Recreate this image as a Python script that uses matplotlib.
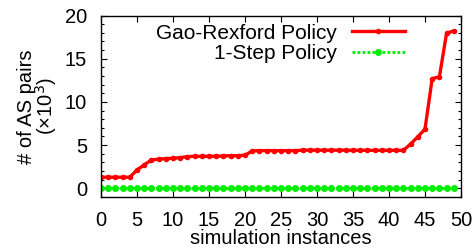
import matplotlib
matplotlib.use("Agg")
import matplotlib.pyplot as plt
from matplotlib.ticker import MultipleLocator

plt.rcParams['font.family'] = ['Liberation Sans', 'DejaVu Sans']

instances = list(range(50))
gao_rexford = [1.29, 1.29, 1.29, 1.29, 1.29, 2.13, 2.71, 3.29, 3.37, 3.44,
               3.48, 3.55, 3.67, 3.71, 3.71, 3.71, 3.71, 3.75, 3.78, 3.78,
               3.83, 4.33, 4.36, 4.36, 4.36, 4.36, 4.36, 4.36, 4.42, 4.42,
               4.42, 4.42, 4.42, 4.42, 4.42, 4.4, 4.4, 4.4, 4.4, 4.4,
               4.4, 4.4, 4.4, 5.13, 5.97, 6.86, 12.7, 12.9, 17.97, 18.2]
one_step = [0.0] * 50

FS = 14.5
fig = plt.figure(figsize=(4.77, 2.49), dpi=100)
ax = fig.add_axes([101/477, 1 - 197/249, 360/477, (197 - 15.5)/249])

ax.plot(instances, gao_rexford, color='#ff0000', lw=2.4, marker='o', ms=3,
        label='Gao-Rexford Policy')
ax.plot(instances, one_step, color='#00ee00', lw=2.0, ls=(0, (1, 0.8)), marker='o',
        ms=4, label='1-Step Policy')

ax.set_xlim(0, 50)
ax.set_ylim(-1, 20)
ax.xaxis.set_major_locator(MultipleLocator(5))
ax.yaxis.set_major_locator(MultipleLocator(5))
ax.yaxis.set_minor_locator(MultipleLocator(1))
ax.tick_params(which='both', direction='in', top=True, right=True, labelsize=FS)
ax.tick_params(which='major', length=4, width=0.8)
ax.tick_params(which='minor', length=2, width=0.8)
ax.tick_params(axis='x', pad=10)
ax.tick_params(axis='y', pad=10)
for s in ax.spines.values():
    s.set_linewidth(1.0)

ax.set_xlabel('simulation instances', fontsize=FS)
ax.xaxis.set_label_coords(0.5, -(238 - 197) / 181.5)
ax.xaxis.label.set_va('center')
ax.set_ylabel('# of AS pairs\n(×10$^3$)', fontsize=FS, linespacing=0.85, labelpad=4)

leg = ax.legend(loc='upper right', bbox_to_anchor=((405 - 101) / 360, 0.955),
                frameon=False, markerfirst=False, fontsize=15, handlelength=2.55,
                handletextpad=0.7, labelspacing=0.08, borderaxespad=0.0,
                borderpad=0.0)

fig.savefig('out.png', dpi=100)
